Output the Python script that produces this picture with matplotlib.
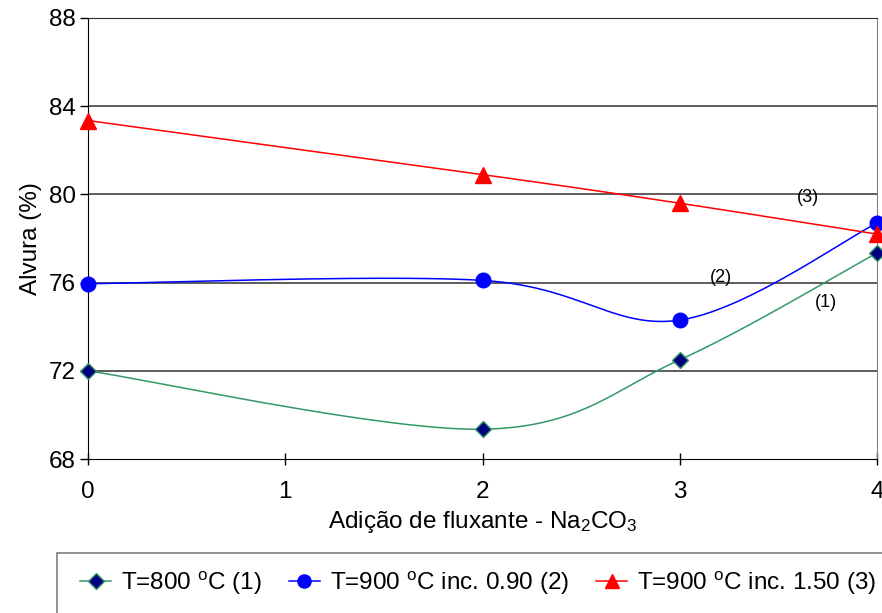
import numpy as np
import matplotlib
matplotlib.use("Agg")
import matplotlib.pyplot as plt
from matplotlib.lines import Line2D
from matplotlib.patches import Rectangle

plt.rcParams['font.family'] = ['Liberation Sans', 'DejaVu Sans']
plt.rcParams['mathtext.fontset'] = 'custom'
plt.rcParams['mathtext.rm'] = 'Liberation Sans'
plt.rcParams['mathtext.it'] = 'Liberation Sans:italic'
plt.rcParams['mathtext.bf'] = 'Liberation Sans:bold'

x_vals = [0, 2, 3, 4]
s1 = [72.0, 69.35, 72.5, 77.35]   # T=800 °C (1)
s2 = [75.95, 76.1, 74.3, 78.7]    # T=900 °C inc. 0.90 (2)
s3 = [83.35, 80.9, 79.6, 78.2]    # T=900 °C inc. 1.50 (3)
labels = ['T=800 $^{\\mathrm{o}}$C (1)', 'T=900 $^{\\mathrm{o}}$C inc. 0.90 (2)',
          'T=900 $^{\\mathrm{o}}$C inc. 1.50 (3)']
xticks = [0, 1, 2, 3, 4]
yticks = [68, 72, 76, 80, 84, 88]


def smooth(xs, ys, n=60):
    p = np.column_stack([xs, ys]).astype(float)
    out = []
    for i in range(len(p) - 1):
        p0 = p[i - 1] if i > 0 else p[i]
        p1 = p[i]
        p2 = p[i + 1]
        p3 = p[i + 2] if i + 2 < len(p) else p[i + 1]
        c1 = p1 + (p2 - p0) / 6.0
        c2 = p2 - (p3 - p1) / 6.0
        t = np.linspace(0, 1, n)[:, None]
        seg = ((1 - t) ** 3) * p1 + 3 * ((1 - t) ** 2) * t * c1 + 3 * (1 - t) * t ** 2 * c2 + t ** 3 * p2
        out.append(seg if i == 0 else seg[1:])
    a = np.vstack(out)
    return a[:, 0], a[:, 1]


fig = plt.figure(figsize=(8.82, 6.13), dpi=100)
ax = fig.add_axes([88 / 882, 1 - 459 / 613, (877 - 88) / 882, (459 - 18) / 613])

ax.set_xlim(0, 4)
ax.set_ylim(68, 88)
ax.set_xticks(xticks)
ax.set_yticks(yticks)
ax.set_xticklabels([str(v) for v in xticks])
ax.set_yticklabels([str(v) for v in yticks])
ax.tick_params(axis='both', labelsize=17.5, colors='black')
ax.tick_params(axis='y', direction='out', length=6, width=1, pad=3)
ax.tick_params(axis='x', direction='inout', length=8, width=1, pad=12)

for yv in yticks[1:]:
    ax.axhline(yv, color='#303030', lw=1.1, zorder=1)

ax.spines['left'].set_color('black')
ax.spines['bottom'].set_color('black')
ax.spines['right'].set_color('#808080')
ax.spines['top'].set_color('#303030')

green = '#339966'
styles = [
    dict(color=green, marker='D', mfc='#000080', mec=green, ms=8.5, mew=1),
    dict(color='#0000FF', marker='o', mfc='#0000FF', mec='#0000FF', ms=10.5, mew=1),
    dict(color='#FF0000', marker='^', mfc='#FF0000', mec='#FF0000', ms=11.5, mew=1),
]
for ys, st in zip([s1, s2, s3], styles):
    sx, sy = smooth(x_vals, ys)
    ax.plot(sx, sy, color=st['color'], lw=1.1, zorder=3, clip_on=False)
    ax.plot(x_vals, ys, ls='none', marker=st['marker'], mfc=st['mfc'], mec=st['mec'],
            ms=st['ms'], mew=st['mew'], zorder=4, clip_on=False)

ax.text(3.65, 79.85, '(3)', fontsize=13, ha='center', va='center')
ax.text(3.21, 76.25, '(2)', fontsize=13, ha='center', va='center')
ax.text(3.74, 75.1, '(1)', fontsize=13, ha='center', va='center')

ax.set_ylabel('Alvura (%)', fontsize=17.5, labelpad=5)
ax.set_xlabel('Adição de fluxante - $\\mathrm{Na_2CO_3}$', fontsize=17.5, labelpad=4)

fig.patches.append(Rectangle((57 / 882, -0.05), 1.0, 1 - 553 / 613 + 0.05, transform=fig.transFigure,
                             fill=False, edgecolor='#808080', lw=1.2))

handles = [Line2D([], [], color=st['color'], marker=st['marker'], mfc=st['mfc'], mec=st['mec'],
                  ms=st['ms'] * 0.9, mew=1, lw=1.1) for st in styles]
fig.legend(handles, labels, loc='center left', bbox_to_anchor=(70 / 882, 1 - 583 / 613),
           ncol=3, frameon=False, fontsize=17.5, handlelength=1.3, handletextpad=0.4,
           columnspacing=1.1, borderaxespad=0)

fig.savefig('out.png', dpi=100)
